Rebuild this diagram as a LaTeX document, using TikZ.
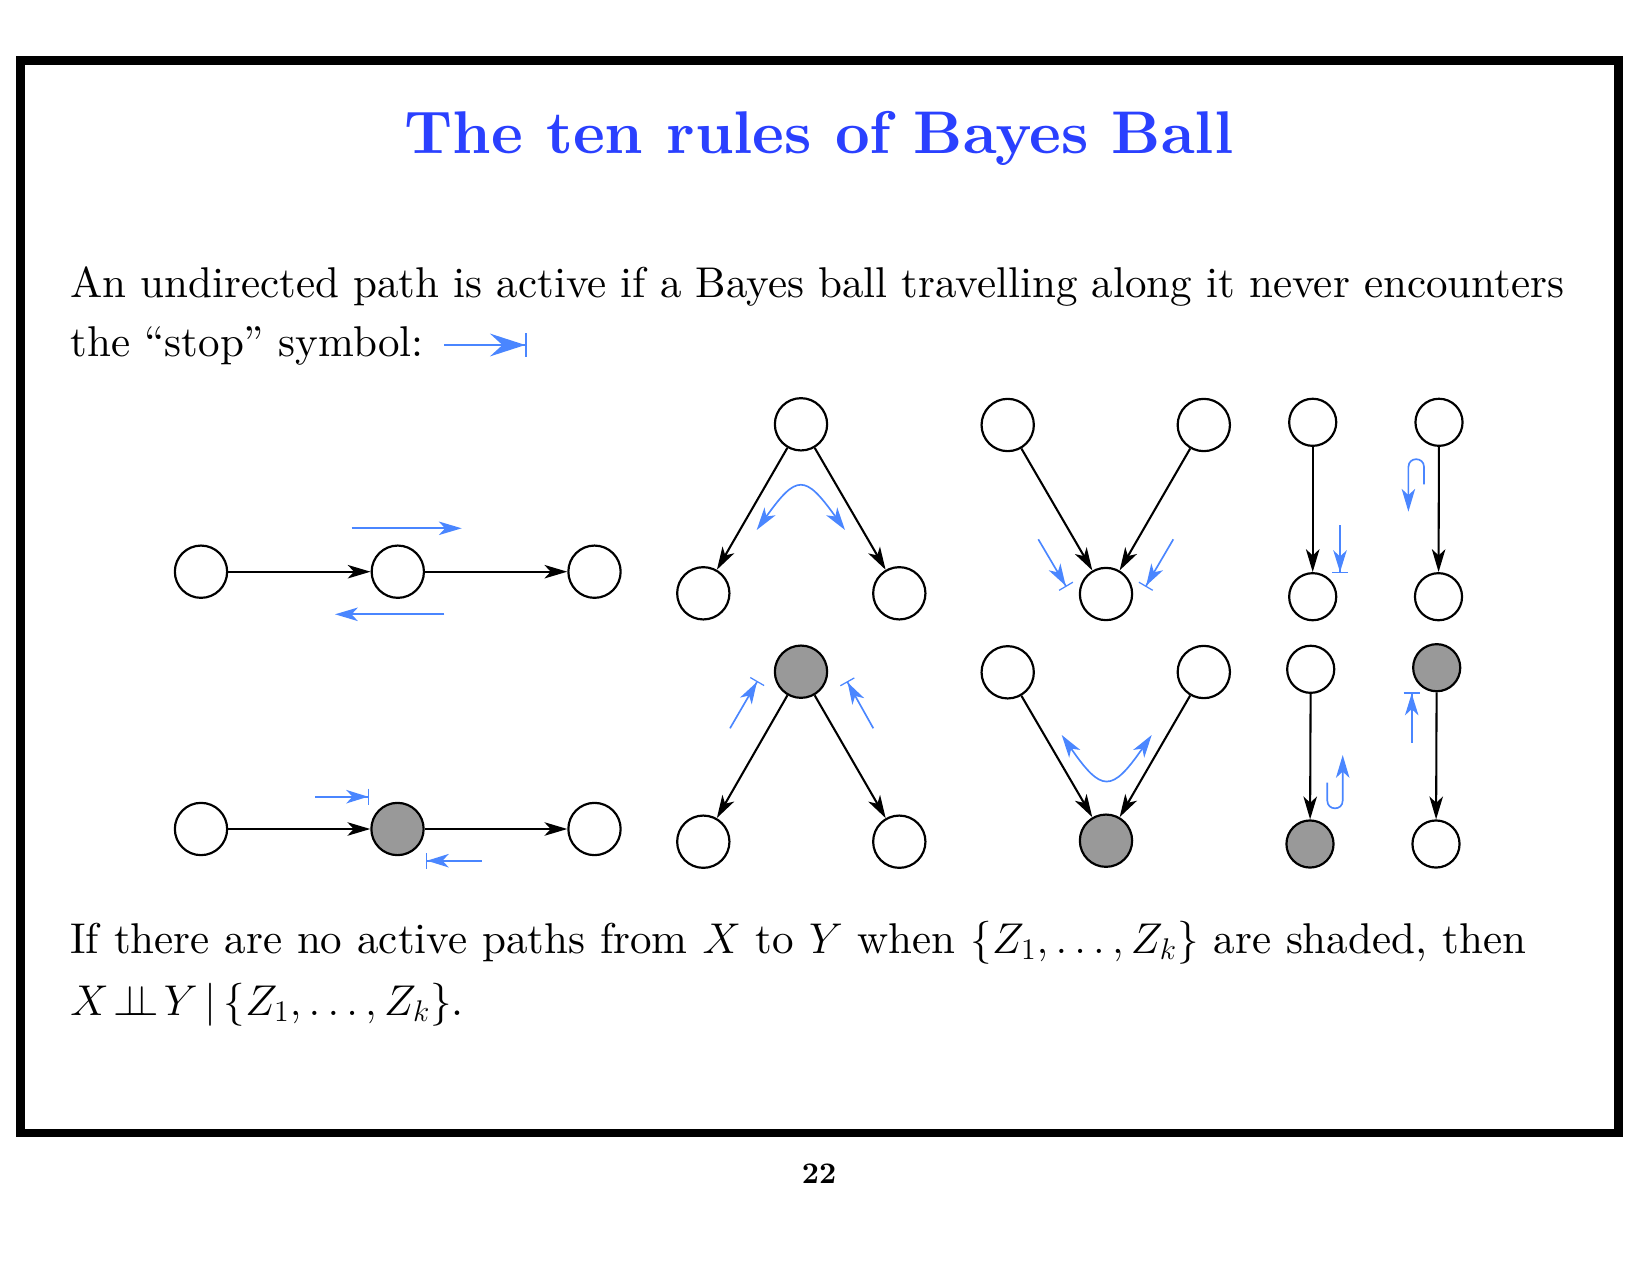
\RequirePackage{fix-cm}
\documentclass[tikz,border=0pt]{standalone}
\usepackage{fontspec}
\setmainfont{lmroman10-regular}[Extension=.otf, BoldFont=lmroman10-bold, ItalicFont=lmroman10-italic, BoldItalicFont=lmroman10-bolditalic]
\usetikzlibrary{arrows.meta}
\definecolor{titleblue}{RGB}{42,64,255}
\definecolor{ballblue}{RGB}{74,134,255}
\definecolor{shadegray}{RGB}{153,153,153}
\begin{document}
\begin{tikzpicture}[x=0.016933cm, y=-0.016933cm,
  ball/.style={circle, draw, line width=1.05pt, inner sep=0pt, minimum size=25.2pt, fill=white},
  vball/.style={ball, minimum size=22.7pt},
  shaded/.style={fill=shadegray},
  arr/.style={line width=1pt, -{Stealth[length=11pt,width=6.5pt,inset=3pt]}},
  barr/.style={draw=ballblue, line width=0.8pt, -{Stealth[length=11pt,width=6.5pt,inset=3pt]}},
  dbarr/.style={draw=ballblue, line width=0.8pt, {Stealth[length=11pt,width=6.5pt,inset=3pt]}-{Stealth[length=11pt,width=6.5pt,inset=3pt]}},
  stoparr/.style={draw=ballblue, line width=0.8pt, -{Stealth[length=10.5pt,width=6.5pt,inset=3pt] Bar[width=7.7pt,line width=0.6pt]}},
  body/.style={font=\fontsize{20.74}{25}\selectfont, anchor=base west, inner sep=0pt}]
\useasboundingbox (0,0) rectangle (1650,1275);
% frame
\draw[line width=4.1pt] (20.5,60.5) rectangle (1618.5,1133);
% title
\node[anchor=base, inner sep=0pt, text=titleblue, font=\fontsize{29.05}{34}\selectfont\bfseries] (title) at (819,153) {The ten rules of Bayes Ball};
% text
\node[body] (t1) at (70,297) {\makebox[719.8pt][s]{An undirected path is active if a Bayes ball travelling along it never encounters}};
\node[body] (t2) at (70,356) {the ``stop'' symbol:};
\draw[draw=ballblue, line width=1pt, -{Stealth[length=17pt,width=11pt,inset=6pt] Bar[width=11.5pt,line width=0.7pt]}] (444,345) -- (526.7,345);
\node[body] (t3) at (70,953) {\makebox[701.5pt][s]{If there are no active paths from $X$ to $Y$ when $\{Z_1,\ldots,Z_k\}$ are shaded, then}};
\node[body] (t4) at (70,1015) {$X\!\perp\!\!\!\perp\!Y\,|\,\{Z_1,\ldots,Z_k\}$.};
\node[anchor=base, inner sep=0pt, font=\fontsize{14.4}{17}\selectfont\bfseries] (pg) at (819,1183) {22};

% chain row 1
\node[ball] (c1a) at (201,571.7) {};
\node[ball] (c1b) at (397.8,571.7) {};
\node[ball] (c1c) at (594.5,571.7) {};
\draw[arr] (c1a) -- (c1b);
\draw[arr] (c1b) -- (c1c);
\draw[barr] (351.7,528.3) -- (461.7,528.3);
\draw[barr] (444.3,614.3) -- (335,614.3);
% chain row 2
\node[ball] (c2a) at (201,829) {};
\node[ball, shaded] (c2b) at (397.5,829) {};
\node[ball] (c2c) at (594.5,829) {};
\draw[arr] (c2a) -- (c2b);
\draw[arr] (c2b) -- (c2c);
\draw[stoparr] (315,796.7) -- (369.3,796.7);
\draw[stoparr] (481.7,860.7) -- (425.7,860.7);

% lambda row 1
\node[ball] (l1t) at (801,424.3) {};
\node[ball] (l1l) at (703.3,593.3) {};
\node[ball] (l1r) at (899.3,593.3) {};
\draw[arr] (l1t) -- (l1l);
\draw[arr] (l1t) -- (l1r);
\draw[dbarr] (756.7,530) .. controls (796.7,474) and (805,474) .. (845,530);
% lambda row 2
\node[ball, shaded] (l2t) at (801,671.7) {};
\node[ball] (l2l) at (703.3,841.7) {};
\node[ball] (l2r) at (899.3,841.7) {};
\draw[arr] (l2t) -- (l2l);
\draw[arr] (l2t) -- (l2r);
\draw[stoparr] (730,728.3) -- (757.5,681);
\draw[stoparr] (873.3,728.3) -- (847,681.3);

% V row 1
\node[ball] (v1l) at (1007.7,425) {};
\node[ball] (v1r) at (1203.8,425) {};
\node[ball] (v1b) at (1106,594) {};
\draw[arr] (v1l) -- (v1b);
\draw[arr] (v1r) -- (v1b);
\draw[stoparr] (1038.3,539.3) -- (1066.3,586.8);
\draw[stoparr] (1173.3,539.3) -- (1145.5,586.8);
% V row 2
\node[ball] (v2l) at (1007.7,672.3) {};
\node[ball] (v2r) at (1203.8,672) {};
\node[ball, shaded] (v2b) at (1106,840.7) {};
\draw[arr] (v2l) -- (v2b);
\draw[arr] (v2r) -- (v2b);
\draw[dbarr] (1061.7,735) .. controls (1101.7,792.7) and (1111.7,792.7) .. (1151.7,735);

% vertical row 1
\node[vball] (p1t) at (1312.7,422.3) {};
\node[vball] (p1b) at (1312.7,596.7) {};
\draw[arr] (p1t) -- (p1b);
\draw[stoparr] (1340,525) -- (1340,573.3);
\node[vball] (q1t) at (1439,422.3) {};
\node[vball] (q1b) at (1438.5,596.7) {};
\draw[arr] (q1t) -- (q1b);
\draw[barr] (1424,484.3) -- (1424,467) .. controls (1424,456.6) and (1408.4,456.6) .. (1408.4,467) -- (1408.4,511.7);
% vertical row 2
\node[vball] (p2t) at (1310.7,669.3) {};
\node[vball, shaded] (p2b) at (1310,844) {};
\draw[arr] (p2t) -- (p2b);
\draw[barr] (1327.3,782.7) -- (1327.3,800.6) .. controls (1327.3,810.9) and (1342.7,810.9) .. (1342.7,800.6) -- (1342.7,755);
\node[vball, shaded] (q2t) at (1436.7,667.7) {};
\node[vball] (q2b) at (1436,844) {};
\draw[arr] (q2t) -- (q2b);
\draw[stoparr] (1411.7,742.7) -- (1411.7,692.3);
\end{tikzpicture}
\end{document}
